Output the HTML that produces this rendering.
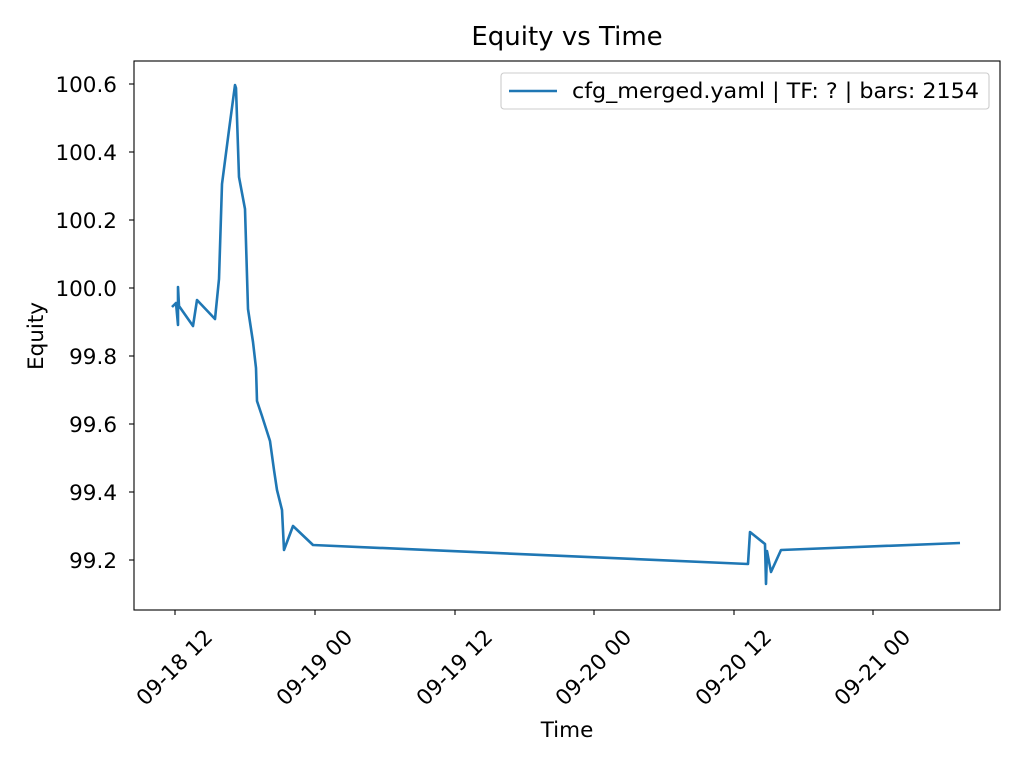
<!DOCTYPE html>
<html><head><meta charset="utf-8"><style>body{margin:0;background:#fff}svg{display:block}text{font-family:"DejaVu Sans","Liberation Sans",sans-serif;fill:#000}</style></head><body>
<svg width="1024" height="768" viewBox="0 0 1024 768" xmlns="http://www.w3.org/2000/svg">
<rect width="1024" height="768" fill="#fff"/>
<text x="567" y="45" font-size="26" text-anchor="middle">Equity vs Time</text>
<g stroke="#000" stroke-width="1.1">
<line x1="134" y1="84" x2="129" y2="84"/><line x1="134" y1="152" x2="129" y2="152"/><line x1="134" y1="220" x2="129" y2="220"/><line x1="134" y1="288" x2="129" y2="288"/><line x1="134" y1="356" x2="129" y2="356"/><line x1="134" y1="424" x2="129" y2="424"/><line x1="134" y1="492" x2="129" y2="492"/><line x1="134" y1="560" x2="129" y2="560"/>
<line x1="175" y1="610" x2="175" y2="615"/><line x1="315" y1="610" x2="315" y2="615"/><line x1="455" y1="610" x2="455" y2="615"/><line x1="594" y1="610" x2="594" y2="615"/><line x1="734" y1="610" x2="734" y2="615"/><line x1="873" y1="610" x2="873" y2="615"/>
</g>
<g font-size="21.5" text-anchor="end">
<text x="117" y="92">100.6</text><text x="117" y="160">100.4</text><text x="117" y="228">100.2</text><text x="117" y="296">100.0</text><text x="117" y="364">99.8</text><text x="117" y="432">99.6</text><text x="117" y="500">99.4</text><text x="117" y="568">99.2</text>
</g>
<g font-size="21.5" text-anchor="middle" dominant-baseline="central">
<text transform="translate(175,668) rotate(-45)">09-18 12</text>
<text transform="translate(315,668) rotate(-45)">09-19 00</text>
<text transform="translate(455,668) rotate(-45)">09-19 12</text>
<text transform="translate(594,668) rotate(-45)">09-20 00</text>
<text transform="translate(734,668) rotate(-45)">09-20 12</text>
<text transform="translate(873,668) rotate(-45)">09-21 00</text>
</g>
<text x="567" y="737" font-size="21.5" text-anchor="middle">Time</text>
<text transform="translate(43,336) rotate(-90)" font-size="21.5" text-anchor="middle">Equity</text>
<polyline fill="none" stroke="#1f77b4" stroke-width="2.6" stroke-linejoin="round" points="172,307 176,303 178,325 178,287 179,306 193,326 197,300 215,319 219,279 222,184 229,130 235,85 236,88 239,177 245,209 248,309 253,342 256,368 257,401 262,416 270,441 274,470 277,490 282,510 284,550 293,526 313,545 748,564 750,532 765,544 766,584 767,551 771,572 781,550 960,543"/>
<rect x="134" y="61" width="866" height="549" fill="none" stroke="#000" stroke-width="1.1"/>
<rect x="501" y="73" width="488" height="36" rx="3" fill="#fff" fill-opacity="0.8" stroke="#ccc" stroke-width="1.1"/>
<line x1="509" y1="91" x2="557" y2="91" stroke="#1f77b4" stroke-width="2.6"/>
<text x="572" y="98" font-size="21.5" textLength="407" lengthAdjust="spacingAndGlyphs">cfg_merged.yaml | TF: ? | bars: 2154</text>
</svg>
</body></html>
